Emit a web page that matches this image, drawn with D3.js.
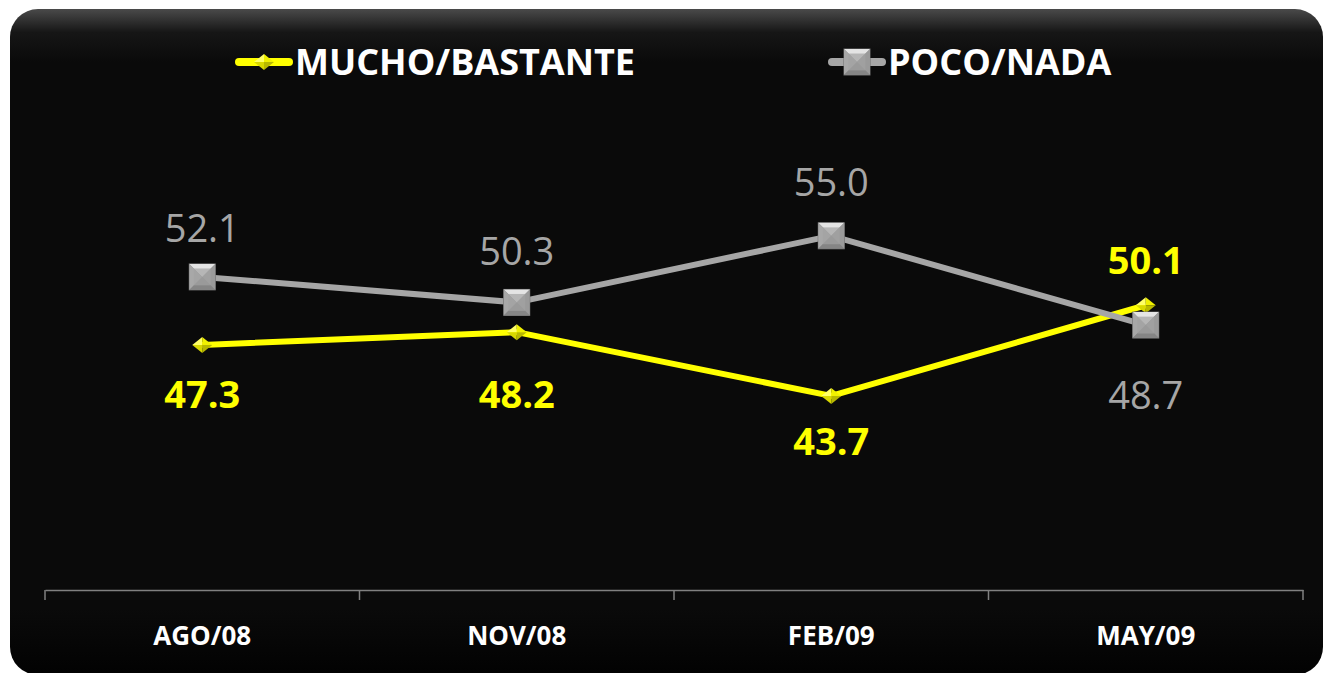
<!DOCTYPE html>
<html>
<head>
<meta charset="utf-8">
<script src="https://cdn.jsdelivr.net/npm/d3@7"></script>
<style>
  body { margin: 0; background: #fff; }
  svg { display: block; }
</style>
</head>
<body>
<script>
// data
const periods = ["AGO/08", "NOV/08", "FEB/09", "MAY/09"];
const mucho = [47.3, 48.2, 43.7, 50.1];
const poco = [52.1, 50.3, 55.0, 48.7];
const seriesNames = ["MUCHO/BASTANTE", "POCO/NADA"];

const width = 1325, height = 673;
const yellow = "#ffff00", grey = "#a6a6a6";

const svg = d3.select("body").append("svg")
  .attr("width", width)
  .attr("height", height);

const defs = svg.append("defs");

// frame gradient (glossy top edge)
const bg = defs.append("linearGradient").attr("id", "bg")
  .attr("x1", 0).attr("y1", 0).attr("x2", 0).attr("y2", 1);
bg.append("stop").attr("offset", "0").attr("stop-color", "#4a4a4a");
bg.append("stop").attr("offset", "0.035").attr("stop-color", "#161616");
bg.append("stop").attr("offset", "0.08").attr("stop-color", "#0a0a0a");
bg.append("stop").attr("offset", "0.9").attr("stop-color", "#0a0a0a");
bg.append("stop").attr("offset", "1").attr("stop-color", "#020202");

svg.append("rect")
  .attr("x", 10).attr("y", 9)
  .attr("width", 1313).attr("height", 666)
  .attr("rx", 28)
  .attr("fill", "url(#bg)");

// scales
const x = d3.scaleBand().domain(periods).range([45, 1303]);
const y = d3.scaleLinear().domain([30, 60]).range([590, 165]);
const cx = d => x(d) + x.bandwidth() / 2;

// x axis
const axis = svg.append("g")
  .attr("transform", "translate(0,590)")
  .call(d3.axisBottom(x).tickSize(0).tickPadding(0).tickFormat(""));
axis.select(".domain").attr("stroke", "#808080").attr("stroke-width", 1.5);
axis.selectAll(".tick").remove();

svg.selectAll(".sep")
  .data(periods.concat(["end"]))
  .enter().append("line")
  .attr("class", "sep")
  .attr("x1", (d, i) => i < periods.length ? x(d) : x.range()[1])
  .attr("x2", (d, i) => i < periods.length ? x(d) : x.range()[1])
  .attr("y1", 590).attr("y2", 600)
  .attr("stroke", "#808080").attr("stroke-width", 1.5);

svg.selectAll(".xlab")
  .data(periods)
  .enter().append("text")
  .attr("class", "xlab")
  .attr("x", d => cx(d))
  .attr("y", 645)
  .attr("text-anchor", "middle")
  .attr("fill", "#fff")
  .attr("font-family", "Open Sans, sans-serif")
  .attr("font-weight", "bold")
  .attr("font-size", 26)
  .text(d => d);

// marker shading
function diamond(g, s) {
  const w = s, h = s * 0.8;
  g.append("path").attr("d", `M${-w},0L0,${-h}L0,0Z`).attr("fill", "#ffff66");
  g.append("path").attr("d", `M0,${-h}L${w},0L0,0Z`).attr("fill", "#f0f000");
  g.append("path").attr("d", `M${-w},0L0,${h}L0,0Z`).attr("fill", "#d8d800");
  g.append("path").attr("d", `M0,${h}L${w},0L0,0Z`).attr("fill", "#b8b800");
}
function square(g, s) {
  const i = s * 0.35;
  g.append("rect").attr("x", -s).attr("y", -s).attr("width", 2 * s).attr("height", 2 * s)
    .attr("fill", "#8c8c8c").attr("stroke", "#6e6e6e").attr("stroke-width", 1);
  g.append("path").attr("d", `M${-s},${-s}L${s},${-s}L0,0Z`).attr("fill", "#e4e4e4");
  g.append("path").attr("d", `M${-s},${-s}L${-s},${s}L0,0Z`).attr("fill", "#a8a8a8");
  g.append("path").attr("d", `M${s},${-s}L${s},${s}L0,0Z`).attr("fill", "#9a9a9a");
  g.append("path").attr("d", `M${-s},${s}L${s},${s}L0,0Z`).attr("fill", "#858585");
  g.append("rect").attr("x", -s + i).attr("y", -s + i).attr("width", 2 * (s - i)).attr("height", 2 * (s - i))
    .attr("fill", "#a2a2a2").attr("opacity", 0.7);
}

const line = d3.line().x(d => cx(d.p)).y(d => y(d.v));

const series = [
  { name: seriesNames[1], values: poco, color: grey, marker: square, size: 13,
    labelColor: "#a6a6a6", weight: "normal", offs: [-35, -37, -40, 84] },
  { name: seriesNames[0], values: mucho, color: yellow, marker: diamond, size: 10,
    labelColor: yellow, weight: "bold", offs: [63, 76, 59, -31] }
];

series.slice().reverse().forEach(s => {
  const pts = s.values.map((v, i) => ({ p: periods[i], v }));
  svg.append("path")
    .datum(pts)
    .attr("fill", "none")
    .attr("stroke", s.color)
    .attr("stroke-width", 6)
    .attr("stroke-linejoin", "round")
    .attr("d", line);
});

series.slice().reverse().forEach(s => {
  s.values.forEach((v, i) => {
    const g = svg.append("g").attr("transform", `translate(${cx(periods[i])},${y(v)})`);
    s.marker(g, s.size);
  });
});

series.forEach(s => {
  svg.selectAll(null)
    .data(s.values)
    .enter().append("text")
    .attr("x", (d, i) => cx(periods[i]))
    .attr("y", (d, i) => y(d) + s.offs[i])
    .attr("text-anchor", "middle")
    .attr("fill", s.labelColor)
    .attr("font-family", "Open Sans, sans-serif")
    .attr("font-weight", s.weight)
    .attr("font-size", 38)
    .text(d => d.toFixed(1));
});

// legend
const legend = [
  { name: seriesNames[0], color: yellow, marker: diamond, size: 10, x: 235 },
  { name: seriesNames[1], color: grey, marker: square, size: 13, x: 828 }
];
legend.forEach(l => {
  const g = svg.append("g").attr("transform", `translate(${l.x},62)`);
  g.append("line").attr("x1", 4).attr("x2", 54).attr("y1", 0).attr("y2", 0)
    .attr("stroke", l.color).attr("stroke-width", 8).attr("stroke-linecap", "round");
  const m = g.append("g").attr("transform", "translate(29,0)");
  l.marker(m, l.size);
  g.append("text")
    .attr("x", 60).attr("y", 13)
    .attr("fill", "#fff")
    .attr("font-family", "Open Sans, sans-serif")
    .attr("font-weight", "bold")
    .attr("font-size", 36)
    .text(l.name);
});
</script>
</body>
</html>
